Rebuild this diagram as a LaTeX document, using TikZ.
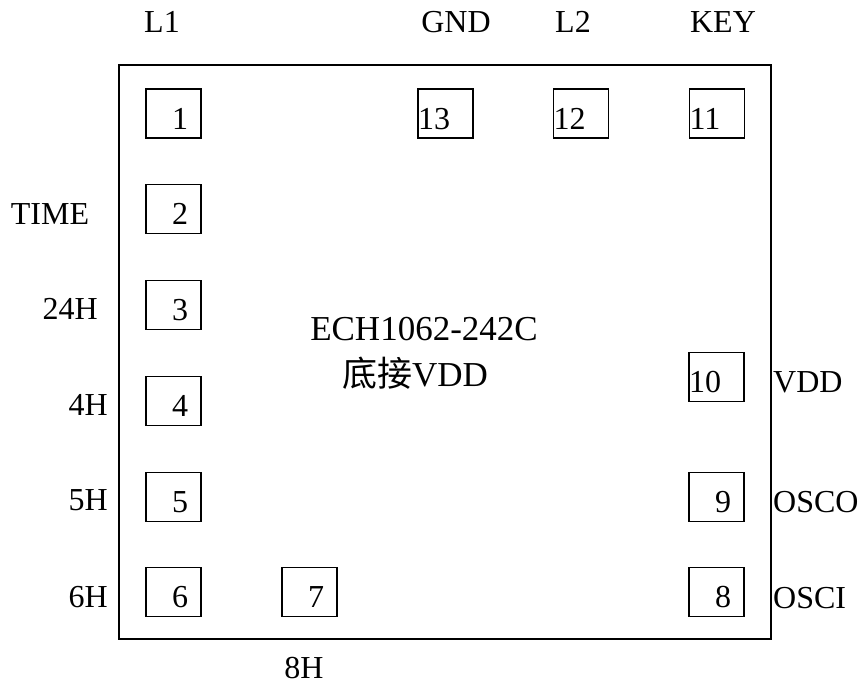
\documentclass[tikz,border=0pt]{standalone}
\usepackage{fontspec}
\setmainfont{Liberation Serif}
\newfontfamily\cjk{Noto Sans CJK SC}
\usepackage{tikz}

\tikzset{
  pinbox/.style={draw, line width=1.4pt, minimum width=55pt, minimum height=49pt,
    inner ysep=0pt, text height=31pt, text depth=0pt},
  onedigit/.style={pinbox, inner xsep=13pt, text width=29pt, align=right},
  twodigit/.style={pinbox, inner xsep=0pt, text width=55pt, align=left},
  pinname/.style={inner sep=0pt},
  partname/.style={inner sep=0pt, font=\fontsize{35}{35}\selectfont}
}

\begin{document}
\begin{tikzpicture}[x=1pt,y=-1pt,font=\fontsize{32}{32}\selectfont]
\useasboundingbox (0,0) rectangle (861,686);

\coordinate (TL) at (119,65);
\coordinate (BR) at (771,639);

\draw[line width=1.4pt] (TL) rectangle (BR); % chip outline

% left column
\node[onedigit] (p1) at (173.5,113.5) {1};
\node[onedigit] (p2) at (173.5,209) {2};
\node[onedigit] (p3) at (173.5,305) {3};
\node[onedigit] (p4) at (173.5,401) {4};
\node[onedigit] (p5) at (173.5,497) {5};
\node[onedigit] (p6) at (173.5,592) {6};
% bottom
\node[onedigit] (p7) at (309.5,592) {7};
% right column
\node[onedigit] (p8) at (716.5,592) {8};
\node[onedigit] (p9) at (716.5,497) {9};
\node[twodigit] (p10) at (716.5,377) {10};
% top row
\node[twodigit] (p11) at (717,113.5) {11};
\node[twodigit] (p12) at (581,113.5) {12};
\node[twodigit] (p13) at (445.5,113.5) {13};

% pin names
\node[pinname] (l1) at (162,22) {L1};
\node[pinname] (gnd) at (456,22) {GND};
\node[pinname] (l2) at (573,22) {L2};
\node[pinname] (key) at (723,22) {KEY};
\node[pinname] (time) at (50,214) {TIME};
\node[pinname, anchor=east] (h24) at (98,309) {24H};
\node[pinname, anchor=east] (h4) at (108,405) {4H};
\node[pinname, anchor=east] (h5) at (108,500) {5H};
\node[pinname, anchor=east] (h6) at (108,597) {6H};
\node[pinname] (h8) at (304,668) {8H};
\node[pinname, anchor=west] (vdd) at (773,382) {VDD};
\node[pinname, anchor=west] (osco) at (773,502) {OSCO};
\node[pinname, anchor=west] (osci) at (773,598) {OSCI};

% part number
\node[partname] (part) at (424,329) {ECH1062-242C};
\node[partname] (pad) at (415,373) {{\cjk 底接}VDD};
\end{tikzpicture}
\end{document}
